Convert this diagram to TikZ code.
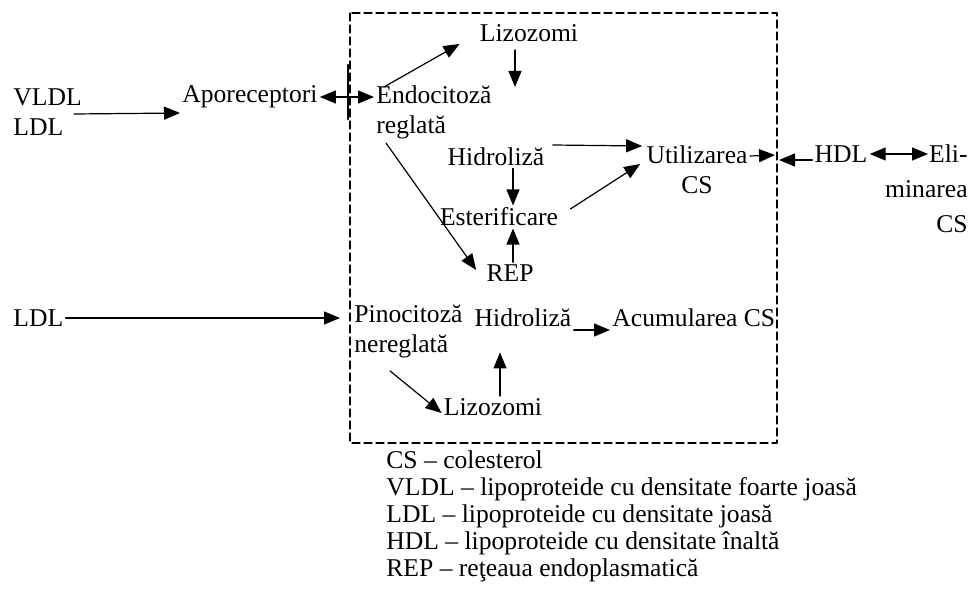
\documentclass[tikz,border=0pt]{standalone}
\usepackage{fontspec}
\setmainfont{Liberation Serif}
\usetikzlibrary{arrows.meta}

\begin{document}
\begin{tikzpicture}[line cap=round,line join=round,>={Triangle[length=8pt,width=6.5pt]},x=0.5pt,y=-0.5pt,
	lbl/.style={inner sep=1pt,font=\fontsize{12.8}{15}\selectfont},
	leg/.style={inner sep=0pt,align=left,font=\fontsize{12.8}{13.5}\selectfont},
	flow/.style={->,line width=0.6pt}]
	\useasboundingbox (0,0) rectangle (972,599);
	% celula
	\coordinate (boxnw) at (350,13);
	\coordinate (boxse) at (777,443);
	\draw [line width=0.6pt,dash pattern=on 4pt off 2pt] (boxnw) rectangle (boxse);
	\draw [line width=1.1pt] (348,65)-- (348,119);
	\coordinate (utilin) at (775,155);
	\coordinate (hdlin) at (779,160);
	% texte
	\node[lbl,anchor=west,align=left] (vldl) at (11,112) {VLDL\\LDL};
	\node[lbl,anchor=west] (apo) at (180,97) {Aporeceptori};
	\node[lbl,anchor=west,align=left] (endo) at (374,112) {Endocitoză\\reglată};
	\node[lbl] (liz1) at (529,33) {Lizozomi};
	\node[lbl] (hid1) at (496,157) {Hidroliză};
	\node[lbl] (est) at (499,217) {Esterificare};
	\node[lbl] (rep) at (510,273) {REP};
	\node[lbl,align=center] (util) at (697,170) {Utilizarea\\CS};
	\node[lbl] (hdl) at (841,154) {HDL};
	\node[lbl,anchor=east,align=right,font=\fontsize{12.8}{17.5}\selectfont] (elim) at (970,189) {Eli-\\minarea\\CS};
	\node[lbl,anchor=west] (ldl) at (11,318) {LDL};
	\node[lbl,anchor=west,align=left] (pino) at (352,332) {Pinocitoză\\nereglată};
	\node[lbl] (hid2) at (523,318) {Hidroliză};
	\node[lbl,anchor=west] (acum) at (610,318) {Acumularea CS};
	\node[lbl] (liz2) at (493,407) {Lizozomi};
	\node[leg,anchor=west] (legend) at (386,516) {CS – colesterol\\VLDL – lipoproteide cu densitate foarte joasă\\LDL – lipoproteide cu densitate joasă\\HDL – lipoproteide cu densitate înaltă\\REP – reţeaua endoplasmatică};
	% sageti
	\draw [flow] ([xshift=-5pt,yshift=-1pt]vldl.east)-- ([yshift=-8pt]apo.west);
	\draw [flow,<->] (apo.east)-- ([yshift=7.5pt]endo.west);
	\draw [flow] ([xshift=5pt,yshift=-2pt]endo.north west)-- ([xshift=-9pt]liz1.south west);
	\draw [flow] ([xshift=-7pt,yshift=-3pt]liz1.south)-- ++(0,37);
	\draw [flow] ([xshift=3pt,yshift=6pt]hid1.east)-- ([xshift=-1pt,yshift=12pt]util.west);
	\draw [flow] ([yshift=7pt]util.east)-- (utilin);
	\draw [flow] ([yshift=-3pt]hdl.west)-- (hdlin);
	\draw [flow,<->] (hdl.east)-- ([xshift=-21pt,yshift=17.5pt]elim.east);
	\draw [flow] ([xshift=8.5pt]hid1.south)-- ([xshift=7pt]est.north);
	\draw [flow] ([xshift=5pt,yshift=4pt]est.east)-- ([xshift=-2pt,yshift=3pt]util.west);
	\draw [flow] ([xshift=1.5pt]rep.north)-- ([xshift=7pt]est.south);
	\draw [flow] ([xshift=6pt,yshift=-1pt]endo.south west)-- ([xshift=-4pt,yshift=1.5pt]rep.west);
	\draw [flow] (ldl.east)-- ([xshift=-6pt,yshift=7pt]pino.west);
	\draw [flow] ([yshift=-6pt]hid2.east)-- ([yshift=-6pt]acum.west);
	\draw [flow] ([xshift=3.5pt]liz2.north)-- ([xshift=-11.5pt,yshift=-11.5pt]hid2.south);
	\draw [flow] ([xshift=19pt,yshift=-5pt]pino.south west)-- ([yshift=-3pt]liz2.west);
\end{tikzpicture}
\end{document}
